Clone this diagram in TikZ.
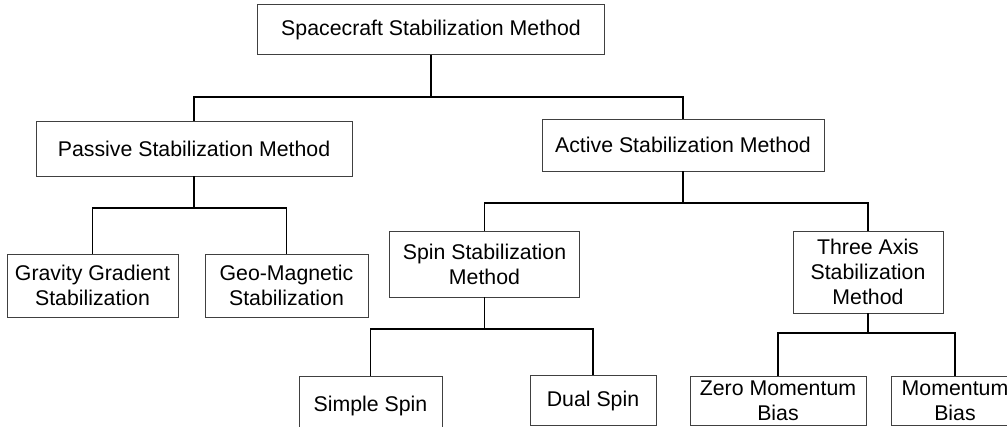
\documentclass[tikz,border=0pt]{standalone}
\usepackage{fontspec}
\setmainfont{Liberation Sans}
\usepackage{tikz}

\begin{document}
\begin{tikzpicture}[x=1pt,y=-1pt,style=thick]
\newcommand{\fsz}{\fontsize{21.3}{25}\selectfont}
\tikzset{link/.style={line width=1.6pt,black}}
\useasboundingbox (0,0) rectangle (1007,427);
\clip (0,0) rectangle (1007,427);
\begin{scope}[shape=rectangle,inner sep=0pt]
\tikzstyle{every node}=[draw=black!75,line width=0.8pt,fill=white,align=center,font=\fsz]
\node[minimum width=347,minimum height=50] (S_0) at (431,29.5) {Spacecraft Stabilization Method};
\node[minimum width=316,minimum height=55] (P_0) at (194,148.5) {Passive Stabilization Method};
\node[minimum width=282,minimum height=52] (A_0) at (683,145) {Active Stabilization Method};
\node[minimum width=171,minimum height=63] (P_1) at (92.5,285.5) {Gravity Gradient\\Stabilization};
\node[minimum width=163,minimum height=63] (P_2) at (286.5,285.5) {Geo-Magnetic\\Stabilization};
\node[minimum width=190,minimum height=66] (A_1) at (484.5,264) {Spin Stabilization\\Method};
\node[minimum width=150,minimum height=82] (A_2) at (868,272) {Three Axis\\Stabilization\\Method};
\node[minimum width=143,minimum height=60] (A_3) at (370.5,406) {Simple Spin};
\node[minimum width=126,minimum height=50] (A_4) at (593,400.5) {Dual Spin};
\node[minimum width=176,minimum height=49] (A_5) at (778,401) {Zero Momentum\\Bias};
\node[minimum width=128,minimum height=49] (A_6) at (955,401) {Momentum\\Bias};
\end{scope}
% branch points
\coordinate (J_0) at (431,97);
\coordinate (J_1) at (194,208);
\coordinate (J_2) at (683,203);
\coordinate (J_3) at (484.5,329);
\coordinate (J_4) at (868,333);
\draw [link] (S_0) -- (J_0);
\draw [link] (J_0) -| (P_0);
\draw [link] (J_0) -| (A_0);
\draw [link] (P_0) -- (J_1);
\draw [link] (J_1) -| (P_1);
\draw [link] (J_1) -| (P_2);
\draw [link] (A_0) -- (J_2);
\draw [link] (J_2) -| (A_1);
\draw [link] (J_2) -| (A_2);
\draw [link] (A_1) -- (J_3);
\draw [link] (J_3) -| (A_3);
\draw [link] (J_3) -| (A_4);
\draw [link] (A_2) -- (J_4);
\draw [link] (J_4) -| (A_5);
\draw [link] (J_4) -| (A_6);
\end{tikzpicture}
\end{document}
